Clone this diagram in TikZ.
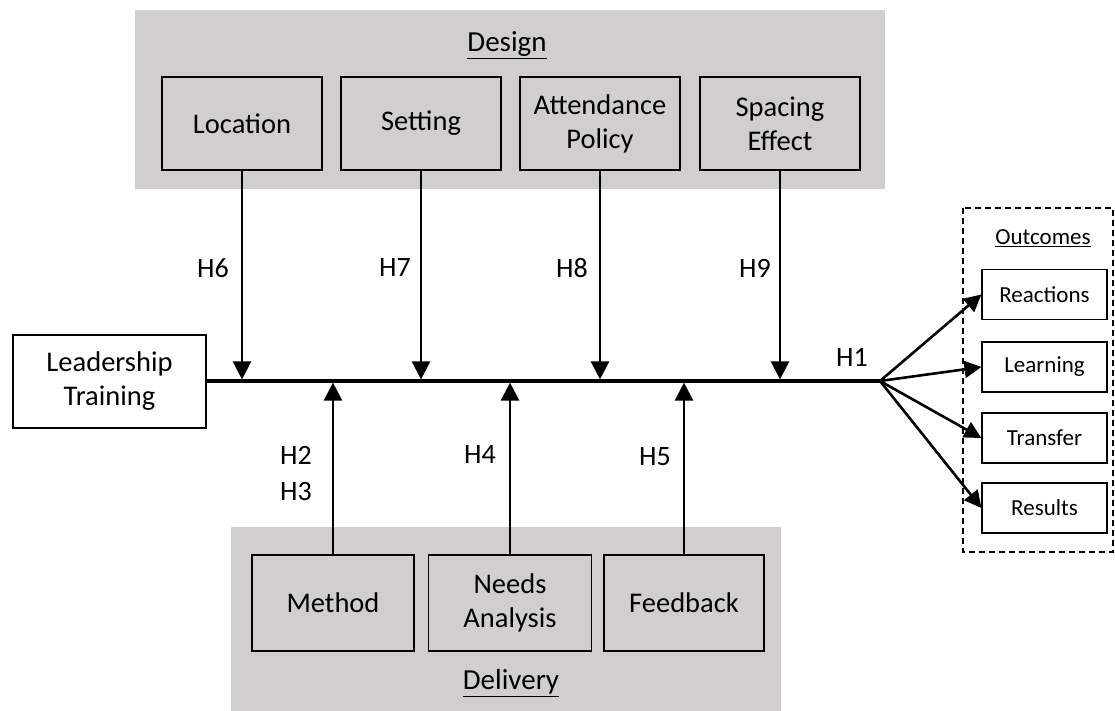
\documentclass[tikz,border=0pt]{standalone}
\usepackage{fontspec}
\setmainfont{Carlito}
\usetikzlibrary{arrows.meta}
\definecolor{panel}{RGB}{208,206,207}
\begin{document}
\begin{tikzpicture}[x=1pt,y=-1pt,
  box/.style={draw=black, line width=1.4pt, minimum width=160pt, minimum height=93pt,
              align=center, inner sep=0pt, font=\fontsize{28.5}{34}\selectfont},
  obox/.style={draw=black, line width=1.2pt, minimum width=125pt, minimum height=50pt,
               inner sep=0pt, font=\fontsize{23}{27}\selectfont},
  lab/.style={font=\fontsize{28}{34}\selectfont, inner sep=0pt, align=center},
  arr/.style={line width=2.6pt, -{Triangle[length=18pt,width=18pt]}},
  oarr/.style={line width=2.6pt, -{Triangle[length=17pt,width=17pt]}},
]
\useasboundingbox (0,0) rectangle (1115,711);

% grey panels
\fill[panel] (135,10) rectangle (885,189);
\fill[panel] (231,527) rectangle (781,711);

% outcome frame
\draw[line width=1.3pt, dash pattern=on 6pt off 4pt] (963,208) rectangle (1113,552);

% panel titles
\node[lab, font=\fontsize{29}{34}\selectfont] (design) at (507,45) {\underline{Design}};
\node[lab, font=\fontsize{29}{34}\selectfont] (delivery) at (511,683) {\underline{Delivery}};
\node[lab, font=\fontsize{23}{27}\selectfont] (outc) at (1043,238) {\underline{Outcomes}};

% design factors
\node[box] (loc)  at (242,123.5) {Location};
\node[box] (set)  at (421,123.5) {Setting};
\node[box] (att)  at (600,123.5) {Attendance\\Policy};
\node[box] (spa)  at (780,123.5) {Spacing\\Effect};

% delivery factors
\node[box, minimum width=162pt, minimum height=96pt] (met) at (333,603) {Method};
\node[box, minimum width=163pt, minimum height=96pt] (nee) at (510,603) {Needs\\Analysis};
\node[box, minimum width=160pt, minimum height=96pt] (fee) at (684,603) {Feedback};

% training and outcomes
\node[box, fill=white, minimum width=193pt, minimum height=93pt] (lt) at (109.5,381.5) {Leadership\\Training};
\node[obox, fill=white] (rea) at (1044.5,294.5) {Reactions};
\node[obox, fill=white] (lea) at (1044.5,367) {Learning};
\node[obox, fill=white] (tra) at (1044.5,438) {Transfer};
\node[obox, fill=white] (res) at (1044.5,508) {Results};

% main path
\coordinate (hub) at (880,381);
\draw[line width=3.2pt] (lt.east |- hub) -- (hub);

% moderators from above
\draw[arr, shorten >=1.6pt] (loc.south) -- (loc.south |- hub);
\draw[arr, shorten >=1.6pt] (set.south) -- (set.south |- hub);
\draw[arr, shorten >=1.6pt] (att.south) -- (att.south |- hub);
\draw[arr, shorten >=1.6pt] (spa.south) -- (spa.south |- hub);

% moderators from below
\draw[arr, shorten >=1.6pt] (met.north) -- (met.north |- hub);
\draw[arr, shorten >=1.6pt] (nee.north) -- (nee.north |- hub);
\draw[arr, shorten >=1.6pt] (fee.north) -- (fee.north |- hub);

% outcome branches
\draw[oarr] (hub) -- (rea.west);
\draw[oarr] (hub) -- (lea.west);
\draw[oarr] (hub) -- (tra.west);
\draw[oarr] (hub) -- (res.west);

% hypothesis labels
\node[lab] (h6) at (213,268) {H6};
\node[lab] (h7) at (395,268) {H7};
\node[lab] (h8) at (572,268) {H8};
\node[lab] (h9) at (755,268) {H9};
\node[lab] (h1) at (852,357) {H1};
\node[lab] (h2) at (296,455) {H2};
\node[lab] (h3) at (296,492) {H3};
\node[lab] (h4) at (480,455) {H4};
\node[lab] (h5) at (655,457) {H5};
\end{tikzpicture}
\end{document}
